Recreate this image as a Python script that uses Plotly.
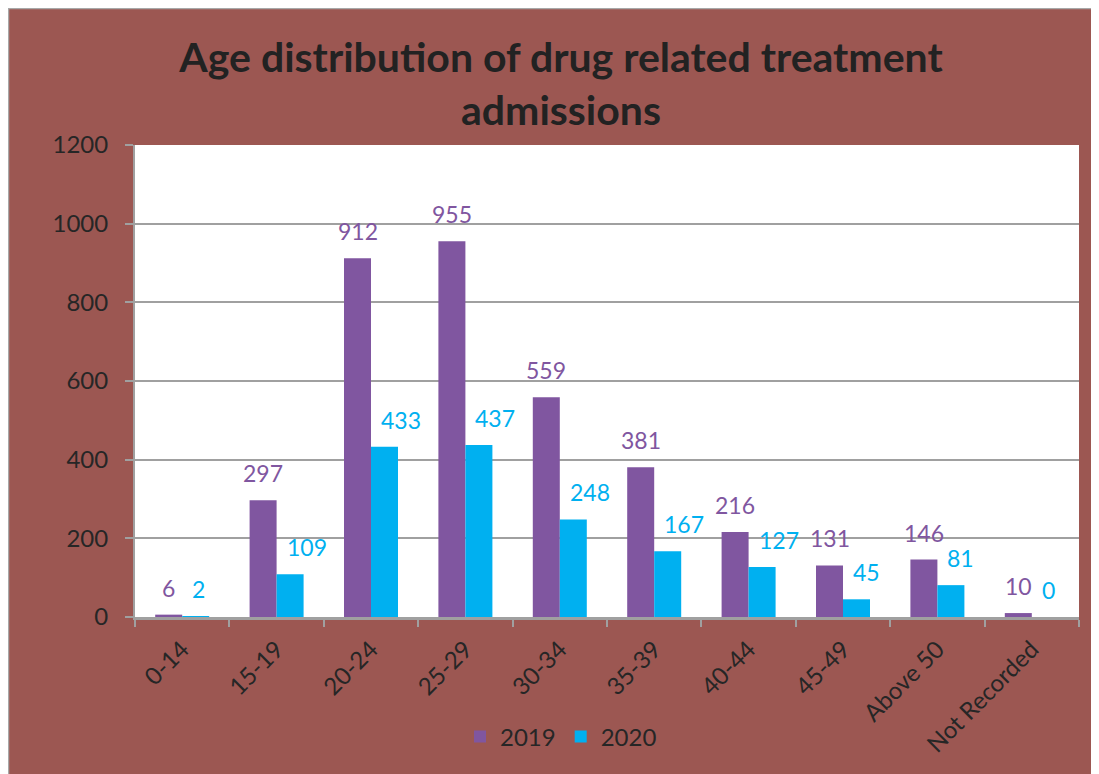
import plotly.graph_objects as go

categories = ["0-14", "15-19", "20-24", "25-29", "30-34", "35-39", "40-44", "45-49", "Above 50", "Not Recorded"]
values_2019 = [6, 297, 912, 955, 559, 381, 216, 131, 146, 10]
values_2020 = [2, 109, 433, 437, 248, 167, 127, 45, 81, 0]
y_ticks = [0, 200, 400, 600, 800, 1000, 1200]

PURPLE = "#8056A0"
CYAN = "#00B0F0"
BG = "#9C5752"
TEXT = "#262626"
GRID = "#A0A0A0"
FONT = "Lato, 'Open Sans', sans-serif"

W, H = 1099, 774
L, R, T, B = 127, 28, 137, 165
pw, ph = W - L - R, H - T - B

def px_x(p):
    return (p - L) / pw

def px_y(p):
    return (H - B - p) / ph

fig = go.Figure()
fig.add_trace(go.Bar(name="2019", x=categories, y=values_2019, marker_color=PURPLE,
                     marker_line_width=0))
fig.add_trace(go.Bar(name="2020", x=categories, y=values_2020, marker_color=CYAN,
                     marker_line_width=0))

annotations = []
for c, v in zip(categories, values_2019):
    annotations.append(dict(x=c, y=v, xref="x", yref="y", text=str(v), showarrow=False,
                            xanchor="center", yanchor="middle", xshift=-13.5, yshift=27,
                            font=dict(family=FONT, size=23, color=PURPLE)))
for c, v in zip(categories, values_2020):
    annotations.append(dict(x=c, y=v, xref="x", yref="y", text=str(v), showarrow=False,
                            xanchor="left", yanchor="middle", xshift=8, yshift=27,
                            font=dict(family=FONT, size=23, color=CYAN)))

shapes = [
    dict(type="rect", xref="paper", yref="paper", layer="below",
         x0=px_x(0.5), x1=px_x(W + 5), y0=px_y(H + 5), y1=px_y(0.5),
         fillcolor="rgba(0,0,0,0)", line=dict(color="#A8A8A8", width=1.5)),
]

fig.update_layout(
    width=W, height=H,
    margin=dict(l=L, r=R, t=T, b=B, pad=0),
    paper_bgcolor=BG,
    plot_bgcolor="white",
    barmode="group",
    bargap=0.428,
    bargroupgap=0,
    title=dict(text="<b>Age distribution of drug related treatment<br>admissions</b>",
               x=553 / W, xanchor="center", xref="container",
               y=1 - 63.5 / H, yanchor="middle", yref="container",
               font=dict(family=FONT, size=41, color="#222222")),
    font=dict(family=FONT, size=24, color=TEXT),
    showlegend=True,
    legend=dict(orientation="h", x=px_x(553), xanchor="center", y=px_y(729), yanchor="middle",
                font=dict(family=FONT, size=24, color=TEXT), bgcolor="rgba(0,0,0,0)",
                itemwidth=30, traceorder="normal"),
    annotations=annotations,
    shapes=shapes,
)

fig.update_yaxes(range=[0, 1200], tickvals=y_ticks, showgrid=True, gridcolor=GRID, gridwidth=1.5,
                 showline=True, linecolor=GRID, linewidth=2, ticks="outside", ticklen=8,
                 tickcolor=GRID, tickwidth=1.5, ticklabelstandoff=12,
                 tickfont=dict(family=FONT, size=24, color=TEXT), zeroline=False)
fig.update_xaxes(type="category", tickangle=-45, showline=True, linecolor=GRID, linewidth=2.5,
                 ticks="outside", tickson="boundaries", ticklen=7, tickcolor=GRID, tickwidth=1.5,
                 ticklabelstandoff=6, tickfont=dict(family=FONT, size=24, color=TEXT),
                 showgrid=False)

fig.write_html("out.html")
